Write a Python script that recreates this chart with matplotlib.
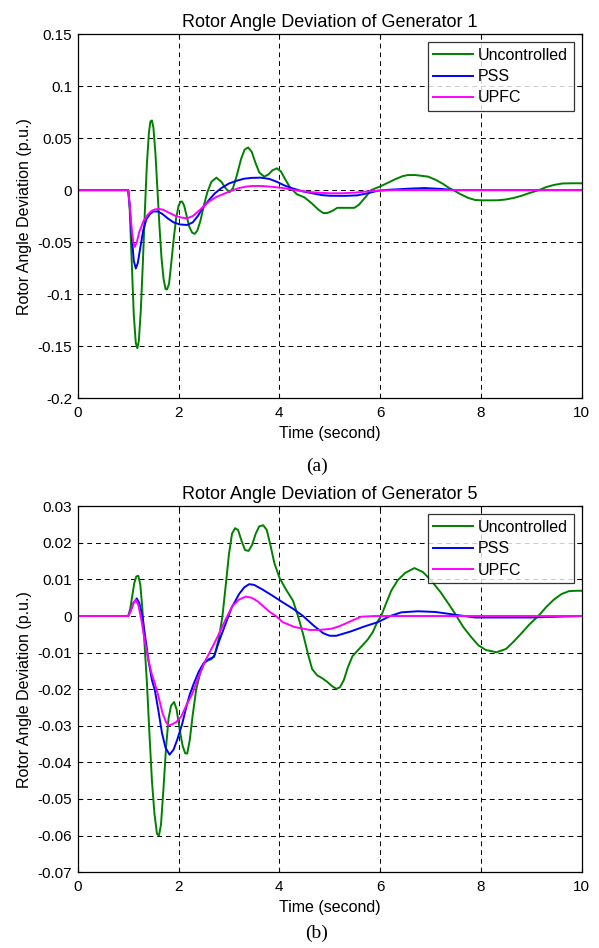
import matplotlib
matplotlib.use("Agg")
import matplotlib.pyplot as plt

plt.rcParams['font.family'] = ['Liberation Sans', 'DejaVu Sans']
plt.rcParams['axes.unicode_minus'] = False

# ---- Generator 1 ----
g1_unc_t = [0, 1.0, 1.03, 1.07, 1.11, 1.15, 1.18, 1.21, 1.25, 1.29, 1.33, 1.37, 1.41,
            1.44, 1.47, 1.50, 1.54, 1.58, 1.62, 1.66, 1.70, 1.74, 1.77, 1.81, 1.85, 1.90,
            1.95, 2.0, 2.04, 2.07, 2.11, 2.16, 2.21, 2.27, 2.32, 2.37, 2.43, 2.5, 2.57,
            2.65, 2.75, 2.85, 2.93, 3.01, 3.08, 3.16, 3.24, 3.31, 3.38, 3.45, 3.52, 3.6,
            3.7, 3.78, 3.86, 3.95, 4.03, 4.12, 4.22, 4.35, 4.5, 4.65, 4.78, 4.87, 4.95,
            5.05, 5.15, 5.3, 5.49, 5.58, 5.65, 5.74, 5.82, 5.92, 6.02, 6.15, 6.3, 6.45,
            6.55, 6.7, 6.95, 7.1, 7.25, 7.37, 7.49, 7.6, 7.75, 7.89, 8.05, 8.2, 8.35,
            8.49, 8.65, 8.8, 8.95, 9.15, 9.3, 9.45, 9.62, 9.8, 10.0]
g1_unc = [0, 0, -0.02, -0.07, -0.12, -0.147, -0.152, -0.145, -0.115, -0.07, -0.02,
          0.025, 0.055, 0.066, 0.067, 0.06, 0.035, 0.0, -0.035, -0.065, -0.085, -0.095,
          -0.0955, -0.09, -0.072, -0.048, -0.027, -0.015, -0.011, -0.011, -0.015,
          -0.025, -0.035, -0.041, -0.042, -0.039, -0.03, -0.015, -0.002, 0.008, 0.012,
          0.008, 0.002, -0.002, 0.002, 0.015, 0.03, 0.039, 0.041, 0.037, 0.027, 0.017,
          0.013, 0.015, 0.019, 0.021, 0.018, 0.01, 0.002, -0.004, -0.007, -0.013,
          -0.019, -0.022, -0.022, -0.02, -0.017, -0.017, -0.017, -0.014, -0.01, -0.005,
          0.0, 0.002, 0.004, 0.007, 0.0105, 0.0135, 0.0145, 0.0145, 0.013, 0.01, 0.006,
          0.002, -0.001, -0.004, -0.0075, -0.0095, -0.0098, -0.0098, -0.0097, -0.009,
          -0.0075, -0.0055, -0.003, 0.0, 0.003, 0.005, 0.0064, 0.0066, 0.0066]

g1_pss_t = [0, 1.0, 1.03, 1.07, 1.11, 1.15, 1.19, 1.24, 1.3, 1.36, 1.43, 1.5, 1.59, 1.68,
            1.78, 1.9, 2.03, 2.17, 2.28, 2.38, 2.48, 2.6, 2.72, 2.85, 3.0, 3.15, 3.3,
            3.45, 3.63, 3.8, 3.95, 4.1, 4.27, 4.45, 4.65, 4.85, 5.0, 5.3, 5.55, 5.75,
            5.95, 6.15, 6.35, 6.6, 6.89, 7.2, 7.5, 10.0]
g1_pss = [0, 0, -0.015, -0.045, -0.068, -0.0753, -0.07, -0.055, -0.038, -0.028, -0.023,
          -0.0205, -0.0205, -0.023, -0.027, -0.031, -0.033, -0.0335, -0.031, -0.025,
          -0.017, -0.0096, -0.003, 0.002, 0.0064, 0.009, 0.011, 0.0118, 0.012, 0.0108,
          0.008, 0.0045, 0.0016, -0.001, -0.003, -0.0048, -0.0054, -0.0055, -0.005,
          -0.003, -0.0006, 0.0003, 0.0008, 0.0015, 0.002, 0.0012, 0.0, 0.0]

g1_upfc_t = [0, 1.0, 1.03, 1.07, 1.1, 1.13, 1.17, 1.22, 1.3, 1.38, 1.46, 1.53, 1.61,
             1.7, 1.82, 1.95, 2.07, 2.17, 2.28, 2.4, 2.5, 2.6, 2.75, 2.9, 3.05, 3.2,
             3.35, 3.47, 3.65, 3.85, 4.05, 4.25, 4.45, 4.7, 5.0, 5.25, 5.5, 5.75, 6.0,
             6.3, 10.0]
g1_upfc = [0, 0, -0.015, -0.038, -0.05, -0.0545, -0.05, -0.04, -0.03, -0.024, -0.02,
           -0.0185, -0.018, -0.019, -0.022, -0.025, -0.0265, -0.027, -0.025, -0.02,
           -0.0155, -0.011, -0.0065, -0.0035, -0.0005, 0.002, 0.0035, 0.004, 0.004,
           0.0032, 0.0022, 0.0005, -0.001, -0.0022, -0.003, -0.003, -0.0024, -0.0012,
           -0.0004, 0.0, 0.0]

# ---- Generator 5 ----
g5_unc_t = [0, 1.0, 1.04, 1.08, 1.12, 1.16, 1.2, 1.24, 1.28, 1.32, 1.37, 1.42, 1.47,
            1.52, 1.57, 1.61, 1.65, 1.7, 1.75, 1.8, 1.85, 1.91, 1.96, 2.02, 2.08, 2.13,
            2.17, 2.22, 2.28, 2.35, 2.43, 2.5, 2.57, 2.65, 2.72, 2.8, 2.87, 2.94, 3.0,
            3.06, 3.12, 3.18, 3.25, 3.32, 3.39, 3.46, 3.53, 3.6, 3.68, 3.75, 3.82, 3.9,
            4.0, 4.12, 4.27, 4.37, 4.47, 4.57, 4.65, 4.75, 4.85, 4.95, 5.05, 5.13, 5.2,
            5.28, 5.36, 5.45, 5.55, 5.65, 5.75, 5.85, 5.95, 6.02, 6.12, 6.22, 6.35, 6.5,
            6.68, 6.85, 7.02, 7.2, 7.35, 7.48, 7.65, 7.81, 7.95, 8.1, 8.31, 8.5, 8.65,
            8.8, 8.97, 9.14, 9.3, 9.45, 9.6, 9.75, 9.9, 10.0]
g5_unc = [0, 0, 0.002, 0.0055, 0.009, 0.0108, 0.011, 0.0085, 0.002, -0.007, -0.018,
          -0.032, -0.045, -0.054, -0.0595, -0.06, -0.057, -0.047, -0.036, -0.028,
          -0.0245, -0.0235, -0.0255, -0.031, -0.0355, -0.0375, -0.0376, -0.034, -0.027,
          -0.02, -0.0155, -0.013, -0.0122, -0.0118, -0.0105, -0.006, 0.0, 0.009, 0.017,
          0.0225, 0.024, 0.0235, 0.0205, 0.018, 0.0178, 0.0195, 0.0225, 0.0245, 0.0248,
          0.0235, 0.0195, 0.0145, 0.0105, 0.0075, 0.0042, 0.0, -0.0049, -0.0105,
          -0.0145, -0.0162, -0.017, -0.018, -0.0192, -0.0199, -0.0195, -0.0175, -0.014,
          -0.011, -0.0095, -0.008, -0.0065, -0.0045, -0.0015, 0.0, 0.0035, 0.0069,
          0.0098, 0.0118, 0.0131, 0.012, 0.0096, 0.0065, 0.0035, 0.0008, -0.003,
          -0.0058, -0.008, -0.0093, -0.0099, -0.009, -0.007, -0.0048, -0.0022, 0.0,
          0.0025, 0.0045, 0.006, 0.0068, 0.0069, 0.0069]

g5_pss_t = [0, 1.0, 1.05, 1.1, 1.17, 1.22, 1.28, 1.34, 1.4, 1.47, 1.53, 1.6, 1.67, 1.74,
            1.82, 1.9, 1.98, 2.07, 2.15, 2.22, 2.3, 2.4, 2.5, 2.6, 2.7, 2.8, 2.93, 3.05,
            3.2, 3.3, 3.4, 3.5, 3.67, 3.87, 4.07, 4.27, 4.47, 4.67, 4.87, 5.0, 5.13,
            5.42, 5.7, 5.95, 6.2, 6.42, 6.75, 7.1, 7.41, 7.88, 9.0, 10.0]
g5_pss = [0, 0, 0.0015, 0.0035, 0.0048, 0.0035, 0.0, -0.006, -0.012, -0.0175, -0.0204,
          -0.026, -0.032, -0.036, -0.0379, -0.0365, -0.0335, -0.0295, -0.025, -0.0215,
          -0.0185, -0.0152, -0.0128, -0.0118, -0.0112, -0.007, -0.0022, 0.0022, 0.006,
          0.0078, 0.0087, 0.0085, 0.0072, 0.0055, 0.0037, 0.002, 0.0, -0.0025, -0.0047,
          -0.0054, -0.0054, -0.0042, -0.0028, -0.0017, 0.0, 0.001, 0.0013, 0.0011,
          0.0005, -0.0004, -0.0004, 0.0]

g5_upfc_t = [0, 1.0, 1.05, 1.1, 1.15, 1.2, 1.26, 1.33, 1.4, 1.47, 1.53, 1.6, 1.68, 1.75,
             1.8, 1.87, 1.95, 2.05, 2.15, 2.27, 2.4, 2.53, 2.67, 2.8, 2.93, 3.07, 3.2,
             3.33, 3.45, 3.57, 3.67, 3.8, 3.93, 4.07, 4.3, 4.6, 4.8, 5.02, 5.15, 5.29,
             5.45, 5.62, 5.89, 10.0]
g5_upfc = [0, 0, 0.0015, 0.0035, 0.0044, 0.003, -0.001, -0.007, -0.012, -0.016, -0.0185,
           -0.022, -0.0265, -0.029, -0.0299, -0.0296, -0.029, -0.0275, -0.0245, -0.0213,
           -0.0165, -0.0122, -0.0085, -0.0049, -0.001, 0.0028, 0.0045, 0.0053, 0.005,
           0.004, 0.0028, 0.0012, 0.0, -0.0017, -0.003, -0.0038, -0.0038, -0.0035,
           -0.003, -0.0022, -0.0012, -0.0002, 0.0, 0.0]

x_ticks = [0, 2, 4, 6, 8, 10]
y1_ticks = [0.15, 0.1, 0.05, 0, -0.05, -0.1, -0.15, -0.2]
y1_labels = ['0.15', '0.1', '0.05', '0', '-0.05', '-0.1', '-0.15', '-0.2']
y5_ticks = [0.03, 0.02, 0.01, 0, -0.01, -0.02, -0.03, -0.04, -0.05, -0.06, -0.07]
y5_labels = ['0.03', '0.02', '0.01', '0', '-0.01', '-0.02', '-0.03', '-0.04', '-0.05',
             '-0.06', '-0.07']

green = '#008000'
blue = '#0000ff'
magenta = '#ff00ff'

fig = plt.figure(figsize=(5.99, 9.48), dpi=100)


def draw_panel(ax, data, yticks, ylabels, ylim, title):
    (ut, u), (pt, p), (ft, f) = data
    ax.plot(ut, u, color=green, lw=1.4, label='Uncontrolled')
    ax.plot(pt, p, color=blue, lw=1.4, label='PSS')
    ax.plot(ft, f, color=magenta, lw=1.4, label='UPFC')
    ax.set_xlim(0, 10)
    ax.set_ylim(*ylim)
    ax.set_xticks(x_ticks)
    ax.set_yticks(yticks)
    ax.set_yticklabels(ylabels)
    ax.tick_params(direction='in', top=True, right=True, labelsize=11, length=3, pad=4)
    ax.tick_params(axis='x', pad=6)
    ax.grid(True, color='black', linestyle=(0, (5, 4)), linewidth=0.7)
    for s in ax.spines.values():
        s.set_linewidth(0.9)
    ax.set_title(title, fontsize=13, pad=5)
    ax.set_xlabel('Time (second)', fontsize=11.5, labelpad=4)
    ax.set_ylabel('Rotor Angle Deviation (p.u.)', fontsize=11.5, labelpad=4)
    leg = ax.legend(loc='upper right', fontsize=11.5, frameon=True, fancybox=False,
                    edgecolor='black', borderaxespad=0.5, handlelength=2.5,
                    handletextpad=0.3, labelspacing=0.4, borderpad=0.35)
    leg.get_frame().set_linewidth(0.9)


ax1 = fig.add_axes([0.130, 0.580, 0.841, 0.384])
draw_panel(ax1, [(g1_unc_t, g1_unc), (g1_pss_t, g1_pss), (g1_upfc_t, g1_upfc)],
           y1_ticks, y1_labels, (-0.2, 0.15), 'Rotor Angle Deviation of Generator 1')

ax2 = fig.add_axes([0.130, 0.080, 0.841, 0.386])
draw_panel(ax2, [(g5_unc_t, g5_unc), (g5_pss_t, g5_pss), (g5_upfc_t, g5_upfc)],
           y5_ticks, y5_labels, (-0.07, 0.03), 'Rotor Angle Deviation of Generator 5')

fig.text(317 / 599, 1 - 466 / 948, '(a)', ha='center', va='center', fontsize=14,
         family='Liberation Serif')
fig.text(317 / 599, 1 - 933 / 948, '(b)', ha='center', va='center', fontsize=14,
         family='Liberation Serif')

fig.savefig('out.png', dpi=100)
